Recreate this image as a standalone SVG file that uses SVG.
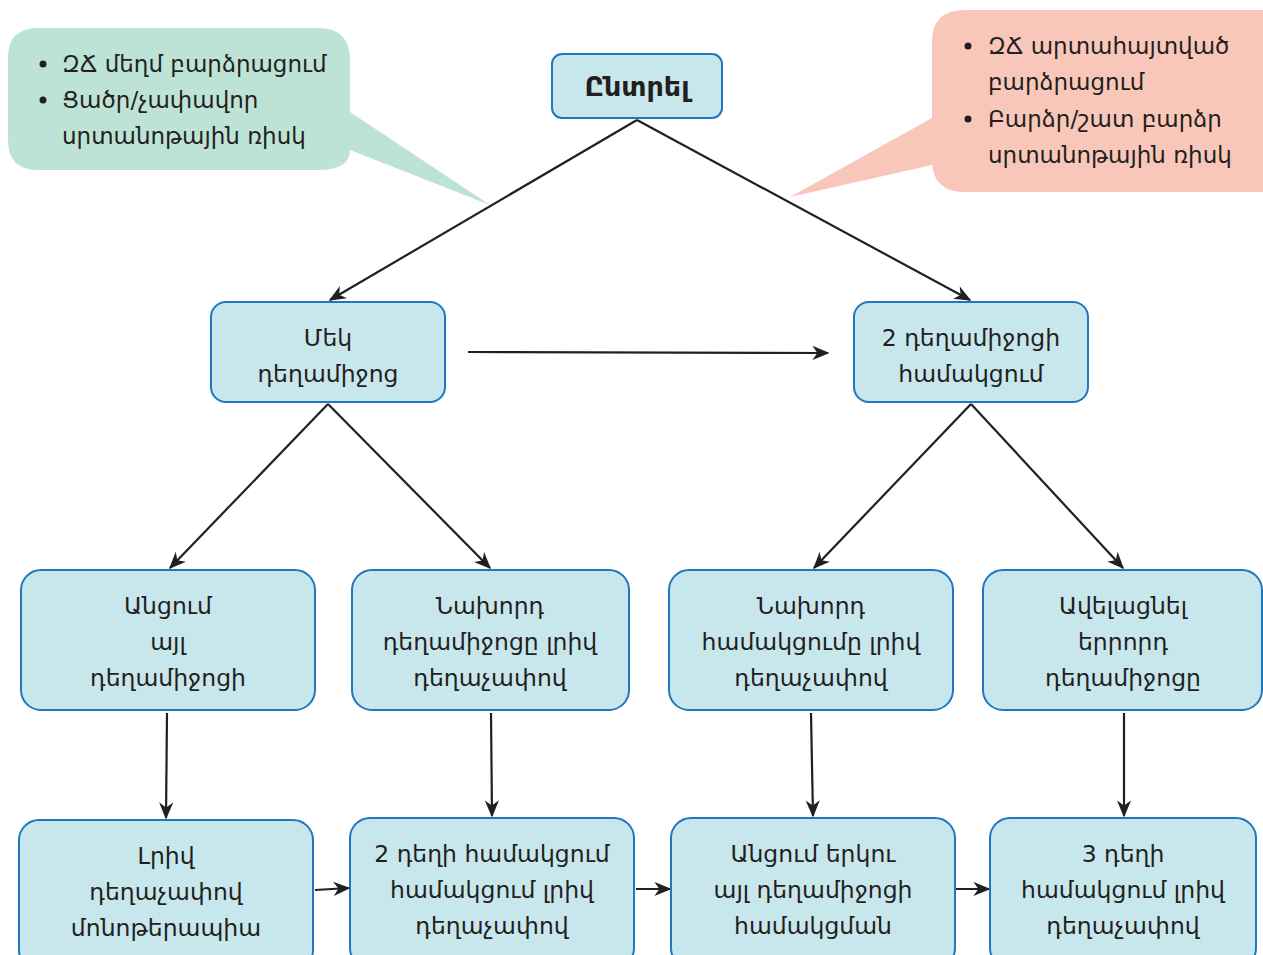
<svg xmlns="http://www.w3.org/2000/svg" width="1263" height="955" viewBox="0 0 1263 955">
<style>
.box{fill:#c8e7ec;stroke:#1f78be;stroke-width:2}
.t{font-family:"DejaVu Sans","Noto Sans",sans-serif;font-size:23.5px;fill:#231f20;text-anchor:middle}
.tb{font-family:"DejaVu Sans","Noto Sans",sans-serif;font-size:27px;font-weight:bold;fill:#231f20;text-anchor:middle}
.tl{font-family:"DejaVu Sans","Noto Sans",sans-serif;font-size:23px;fill:#231f20}
.c{stroke:#231f20;stroke-width:2.2;fill:none;marker-end:url(#ah)}
</style>
<defs>
<marker id="ah" viewBox="0 0 12 10" refX="11" refY="5" markerWidth="17" markerHeight="15" markerUnits="userSpaceOnUse" orient="auto">
<path d="M0,0 L12,5 L0,10 L3.5,5 z" fill="#231f20"/>
</marker>
</defs>
<g id="callout-green">
<path d="M38,28 H318 Q350,28 350,60 V112 L490,205 L350,150 Q350,170 318,170 H38 Q8,170 8,140 V58 Q8,28 38,28 Z" fill="#bde3d6"/>
<circle cx="43" cy="64" r="3.5" fill="#231f20"/>
<circle cx="43" cy="100" r="3.5" fill="#231f20"/>
<text class="tl" x="62" y="72">ԶՃ մեղմ բարձրացում</text>
<text class="tl" x="62" y="108">Ցածր/չափավոր</text>
<text class="tl" x="62" y="144">սրտանոթային ռիսկ</text>
</g>
<g id="callout-pink">
<path d="M965,10 H1263 V192 H965 Q932,192 932,160 V165 L790,197 L932,118 V42 Q932,10 965,10 Z" fill="#f8c7b9"/>
<circle cx="968" cy="46" r="3.5" fill="#231f20"/>
<circle cx="968" cy="119" r="3.5" fill="#231f20"/>
<text class="tl" x="988" y="54">ԶՃ արտահայտված</text>
<text class="tl" x="988" y="90">բարձրացում</text>
<text class="tl" x="988" y="127">Բարձր/շատ բարձր</text>
<text class="tl" x="988" y="163">սրտանոթային ռիսկ</text>
</g>
<g id="connectors">
<line class="c" x1="637" y1="120" x2="330" y2="300"/>
<line class="c" x1="637" y1="120" x2="970" y2="300"/>
<line class="c" x1="468" y1="352" x2="828" y2="353"/>
<line class="c" x1="328" y1="404" x2="170" y2="568"/>
<line class="c" x1="328" y1="404" x2="490" y2="568"/>
<line class="c" x1="971" y1="404" x2="814" y2="568"/>
<line class="c" x1="971" y1="404" x2="1123" y2="568"/>
<line class="c" x1="167" y1="713" x2="166" y2="818"/>
<line class="c" x1="491" y1="713" x2="492" y2="816"/>
<line class="c" x1="811" y1="713" x2="813" y2="816"/>
<line class="c" x1="1124" y1="713" x2="1124" y2="816"/>
<line class="c" x1="315" y1="890" x2="349" y2="888"/>
<line class="c" x1="636" y1="889" x2="670" y2="889"/>
<line class="c" x1="956" y1="889" x2="989" y2="889"/>
</g>
<g id="n-start">
<rect class="box" x="552" y="54" width="170" height="64" rx="10"/>
<text class="tb" x="637" y="96">Ընտրել</text>
</g>
<g id="n-one">
<rect class="box" x="211" y="302" width="234" height="100" rx="15"/>
<text class="t" x="328" y="346">Մեկ</text>
<text class="t" x="328" y="382">դեղամիջոց</text>
</g>
<g id="n-two">
<rect class="box" x="854" y="302" width="234" height="100" rx="15"/>
<text class="t" x="971" y="346">2 դեղամիջոցի</text>
<text class="t" x="971" y="382">համակցում</text>
</g>
<g id="n-switch">
<rect class="box" x="21" y="570" width="294" height="140" rx="20"/>
<text class="t" x="168" y="614">Անցում</text>
<text class="t" x="168" y="650">այլ</text>
<text class="t" x="168" y="686">դեղամիջոցի</text>
</g>
<g id="n-prev1">
<rect class="box" x="352" y="570" width="277" height="140" rx="20"/>
<text class="t" x="490" y="614">Նախորդ</text>
<text class="t" x="490" y="650">դեղամիջոցը լրիվ</text>
<text class="t" x="490" y="686">դեղաչափով</text>
</g>
<g id="n-prev2">
<rect class="box" x="669" y="570" width="284" height="140" rx="20"/>
<text class="t" x="811" y="614">Նախորդ</text>
<text class="t" x="811" y="650">համակցումը լրիվ</text>
<text class="t" x="811" y="686">դեղաչափով</text>
</g>
<g id="n-add">
<rect class="box" x="983" y="570" width="279" height="140" rx="20"/>
<text class="t" x="1123" y="614">Ավելացնել</text>
<text class="t" x="1123" y="650">երրորդ</text>
<text class="t" x="1123" y="686">դեղամիջոցը</text>
</g>
<g id="n-mono">
<rect class="box" x="19" y="820" width="294" height="150" rx="20"/>
<text class="t" x="166" y="864">Լրիվ</text>
<text class="t" x="166" y="900">դեղաչափով</text>
<text class="t" x="166" y="936">մոնոթերապիա</text>
</g>
<g id="n-combo2">
<rect class="box" x="350" y="818" width="284" height="150" rx="20"/>
<text class="t" x="492" y="862">2 դեղի համակցում</text>
<text class="t" x="492" y="898">համակցում լրիվ</text>
<text class="t" x="492" y="934">դեղաչափով</text>
</g>
<g id="n-switch2">
<rect class="box" x="671" y="818" width="284" height="150" rx="20"/>
<text class="t" x="813" y="862">Անցում երկու</text>
<text class="t" x="813" y="898">այլ դեղամիջոցի</text>
<text class="t" x="813" y="934">համակցման</text>
</g>
<g id="n-combo3">
<rect class="box" x="990" y="818" width="266" height="150" rx="20"/>
<text class="t" x="1123" y="862">3 դեղի</text>
<text class="t" x="1123" y="898">համակցում լրիվ</text>
<text class="t" x="1123" y="934">դեղաչափով</text>
</g>
</svg>
